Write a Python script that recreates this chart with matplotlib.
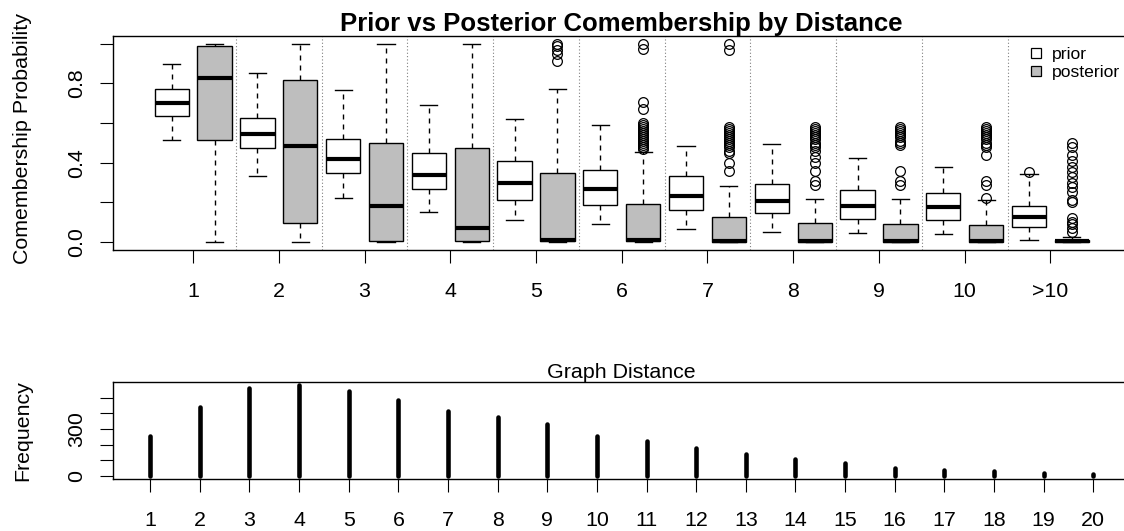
import matplotlib
matplotlib.use("Agg")
import matplotlib.pyplot as plt
from matplotlib.lines import Line2D

plt.rcParams['font.family'] = ['Liberation Sans', 'DejaVu Sans']

# ---- data -------------------------------------------------------------
group_labels = ["1", "2", "3", "4", "5", "6", "7", "8", "9", "10", ">10"]

prior_whislo = [0.515, 0.335, 0.221, 0.150, 0.113, 0.093, 0.066, 0.052, 0.044, 0.041, 0.011]
prior_q1     = [0.636, 0.476, 0.347, 0.268, 0.214, 0.185, 0.162, 0.145, 0.115, 0.111, 0.078]
prior_med    = [0.701, 0.546, 0.417, 0.340, 0.298, 0.268, 0.234, 0.207, 0.182, 0.178, 0.128]
prior_q3     = [0.772, 0.627, 0.521, 0.448, 0.409, 0.365, 0.333, 0.293, 0.263, 0.246, 0.183]
prior_whishi = [0.896, 0.854, 0.767, 0.691, 0.620, 0.590, 0.486, 0.496, 0.422, 0.377, 0.343]
prior_fliers = [[], [], [], [], [], [], [], [], [], [], [0.355]]

post_whislo = [0.0, 0.0, 0.0, 0.0, 0.0, 0.0, 0.0, 0.0, 0.0, 0.0, 0.0]
post_q1     = [0.515, 0.098, 0.005, 0.004, 0.003, 0.003, 0.0, 0.0, 0.0, 0.0, 0.0]
post_med    = [0.829, 0.486, 0.180, 0.073, 0.012, 0.012, 0.004, 0.004, 0.004, 0.004, 0.003]
post_q3     = [0.988, 0.817, 0.498, 0.473, 0.347, 0.190, 0.125, 0.098, 0.090, 0.086, 0.012]
post_whishi = [0.998, 0.998, 0.998, 0.998, 0.772, 0.455, 0.281, 0.216, 0.216, 0.212, 0.025]
post_fliers = [
    [], [], [], [],
    [1.0, 0.99, 0.97, 0.95, 0.91],
    [1.0, 0.975, 0.705, 0.67, 0.60, 0.59, 0.58, 0.57, 0.56, 0.55, 0.54, 0.53,
     0.52, 0.51, 0.50, 0.49, 0.48, 0.47],
    [1.0, 0.97, 0.58, 0.57, 0.56, 0.55, 0.54, 0.53, 0.52, 0.51, 0.50, 0.49,
     0.48, 0.46, 0.45, 0.40, 0.36],
    [0.58, 0.57, 0.56, 0.55, 0.54, 0.53, 0.52, 0.50, 0.49, 0.48, 0.46, 0.43,
     0.40, 0.36, 0.31, 0.29],
    [0.58, 0.57, 0.56, 0.55, 0.54, 0.53, 0.51, 0.50, 0.49, 0.36, 0.31, 0.29],
    [0.58, 0.57, 0.56, 0.55, 0.54, 0.53, 0.52, 0.50, 0.49, 0.48, 0.44, 0.31,
     0.29, 0.22],
    [0.50, 0.48, 0.44, 0.41, 0.38, 0.355, 0.33, 0.30, 0.28, 0.25, 0.21, 0.20,
     0.12, 0.10, 0.09, 0.07, 0.05],
]

distances = list(range(1, 21))
frequency = [254, 443, 560, 580, 546, 483, 417, 379, 333, 255, 221, 179, 140,
             108, 79, 52, 35, 27, 19, 13]

# ---- figure -----------------------------------------------------------
W, H = 1124, 531
fig = plt.figure(figsize=(W / 100, H / 100), dpi=100)

def px_axes(left, top, right, bottom):
    return fig.add_axes([left / W, 1 - bottom / H, (right - left) / W, (bottom - top) / H])

ax1 = px_axes(112.5, 35.7, 1131, 250)
ax2 = px_axes(112.5, 381.7, 1131, 479.3)

def make_stats(lo, q1, med, q3, hi, fl):
    return [dict(whislo=a, q1=b, med=c, q3=d, whishi=e, fliers=f)
            for a, b, c, d, e, f in zip(lo, q1, med, q3, hi, fl)]

prior_stats = make_stats(prior_whislo, prior_q1, prior_med, prior_q3, prior_whishi, prior_fliers)
post_stats = make_stats(post_whislo, post_q1, post_med, post_q3, post_whishi, post_fliers)

n = len(group_labels)
prior_pos = [2 * i + 1 for i in range(n)]
post_pos = [2 * i + 2 for i in range(n)]

common = dict(
    widths=0.8, capwidths=0.4, patch_artist=True, manage_ticks=False,
    medianprops=dict(color='black', linewidth=3.0, solid_capstyle='butt'),
    whiskerprops=dict(color='black', linewidth=1.0, linestyle=(0, (3.6, 3.6))),
    capprops=dict(color='black', linewidth=1.0),
    flierprops=dict(marker='o', markerfacecolor='none', markeredgecolor='black',
                    markersize=7, markeredgewidth=0.9, linestyle='none'),
)
ax1.bxp(prior_stats, positions=prior_pos,
        boxprops=dict(facecolor='white', edgecolor='black', linewidth=1.0), **common)
ax1.bxp(post_stats, positions=post_pos,
        boxprops=dict(facecolor='#bebebe', edgecolor='black', linewidth=1.0), **common)

# dotted separators between distance groups
for i in range(1, n):
    ax1.axvline(2 * i + 0.5, color='#808080', linestyle=(0, (1, 2)), linewidth=0.8, zorder=0)

span = 2 * n
ax1.set_xlim(0.5 - 0.04 * span, span + 0.5 + 0.04 * span)
ax1.set_ylim(-0.04, 1.04)
ax1.set_xticks([2 * i + 1.5 for i in range(n)])
ax1.set_xticklabels(group_labels)
yt = [0.0, 0.2, 0.4, 0.6, 0.8, 1.0]
ax1.set_yticks(yt)
ax1.set_yticklabels(["0.0", "", "0.4", "", "0.8", ""], rotation=90, va='center')

ax1.set_title("Prior vs Posterior Comembership by Distance",
              fontsize=18.5, fontweight='bold', pad=3)

legend_handles = [
    Line2D([], [], marker='s', linestyle='none', markersize=6.5,
           markerfacecolor='white', markeredgecolor='black', markeredgewidth=0.9),
    Line2D([], [], marker='s', linestyle='none', markersize=6.5,
           markerfacecolor='#bebebe', markeredgecolor='black', markeredgewidth=0.9),
]
fig.legend(legend_handles, ["prior", "posterior"], loc='upper left',
           bbox_to_anchor=(1031 / W, 1 - 46.7 / H), frameon=False,
           fontsize=12.6, borderpad=0, borderaxespad=0, handlelength=0.6,
           handletextpad=0.6, labelspacing=0.15)

# ---- frequency panel --------------------------------------------------
ax2.vlines(distances, 0, frequency, color='black', linewidth=3.3, capstyle='round')
fmax = max(frequency)
ax2.set_xlim(1 - 0.04 * 19, 20 + 0.04 * 19)
ax2.set_ylim(-0.04 * fmax, 1.04 * fmax)
ax2.set_xticks(distances)
ax2.set_xticklabels([str(d) for d in distances])
ax2.set_yticks([0, 100, 200, 300, 400, 500])
ax2.set_yticklabels(["0", "", "", "300", "", ""], rotation=90, va='center')

for ax in (ax1, ax2):
    for s in ax.spines.values():
        s.set_linewidth(1.0)
    ax.tick_params(axis='both', length=9.4, width=0.8, labelsize=15.4, color='black')
    ax.tick_params(axis='x', pad=13.7)
    ax.tick_params(axis='y', pad=9.8)

fig.text(22.5 / W, 1 - 138 / H, "Comembership Probability", rotation=90,
         ha='center', va='center', fontsize=15.4)
fig.text(621.8 / W, 1 - 372 / H, "Graph Distance", ha='center', va='center', fontsize=15.4)
fig.text(22.5 / W, 1 - 430.5 / H, "Frequency", rotation=90,
         ha='center', va='center', fontsize=15.4)

fig.savefig("out.png", dpi=100)
